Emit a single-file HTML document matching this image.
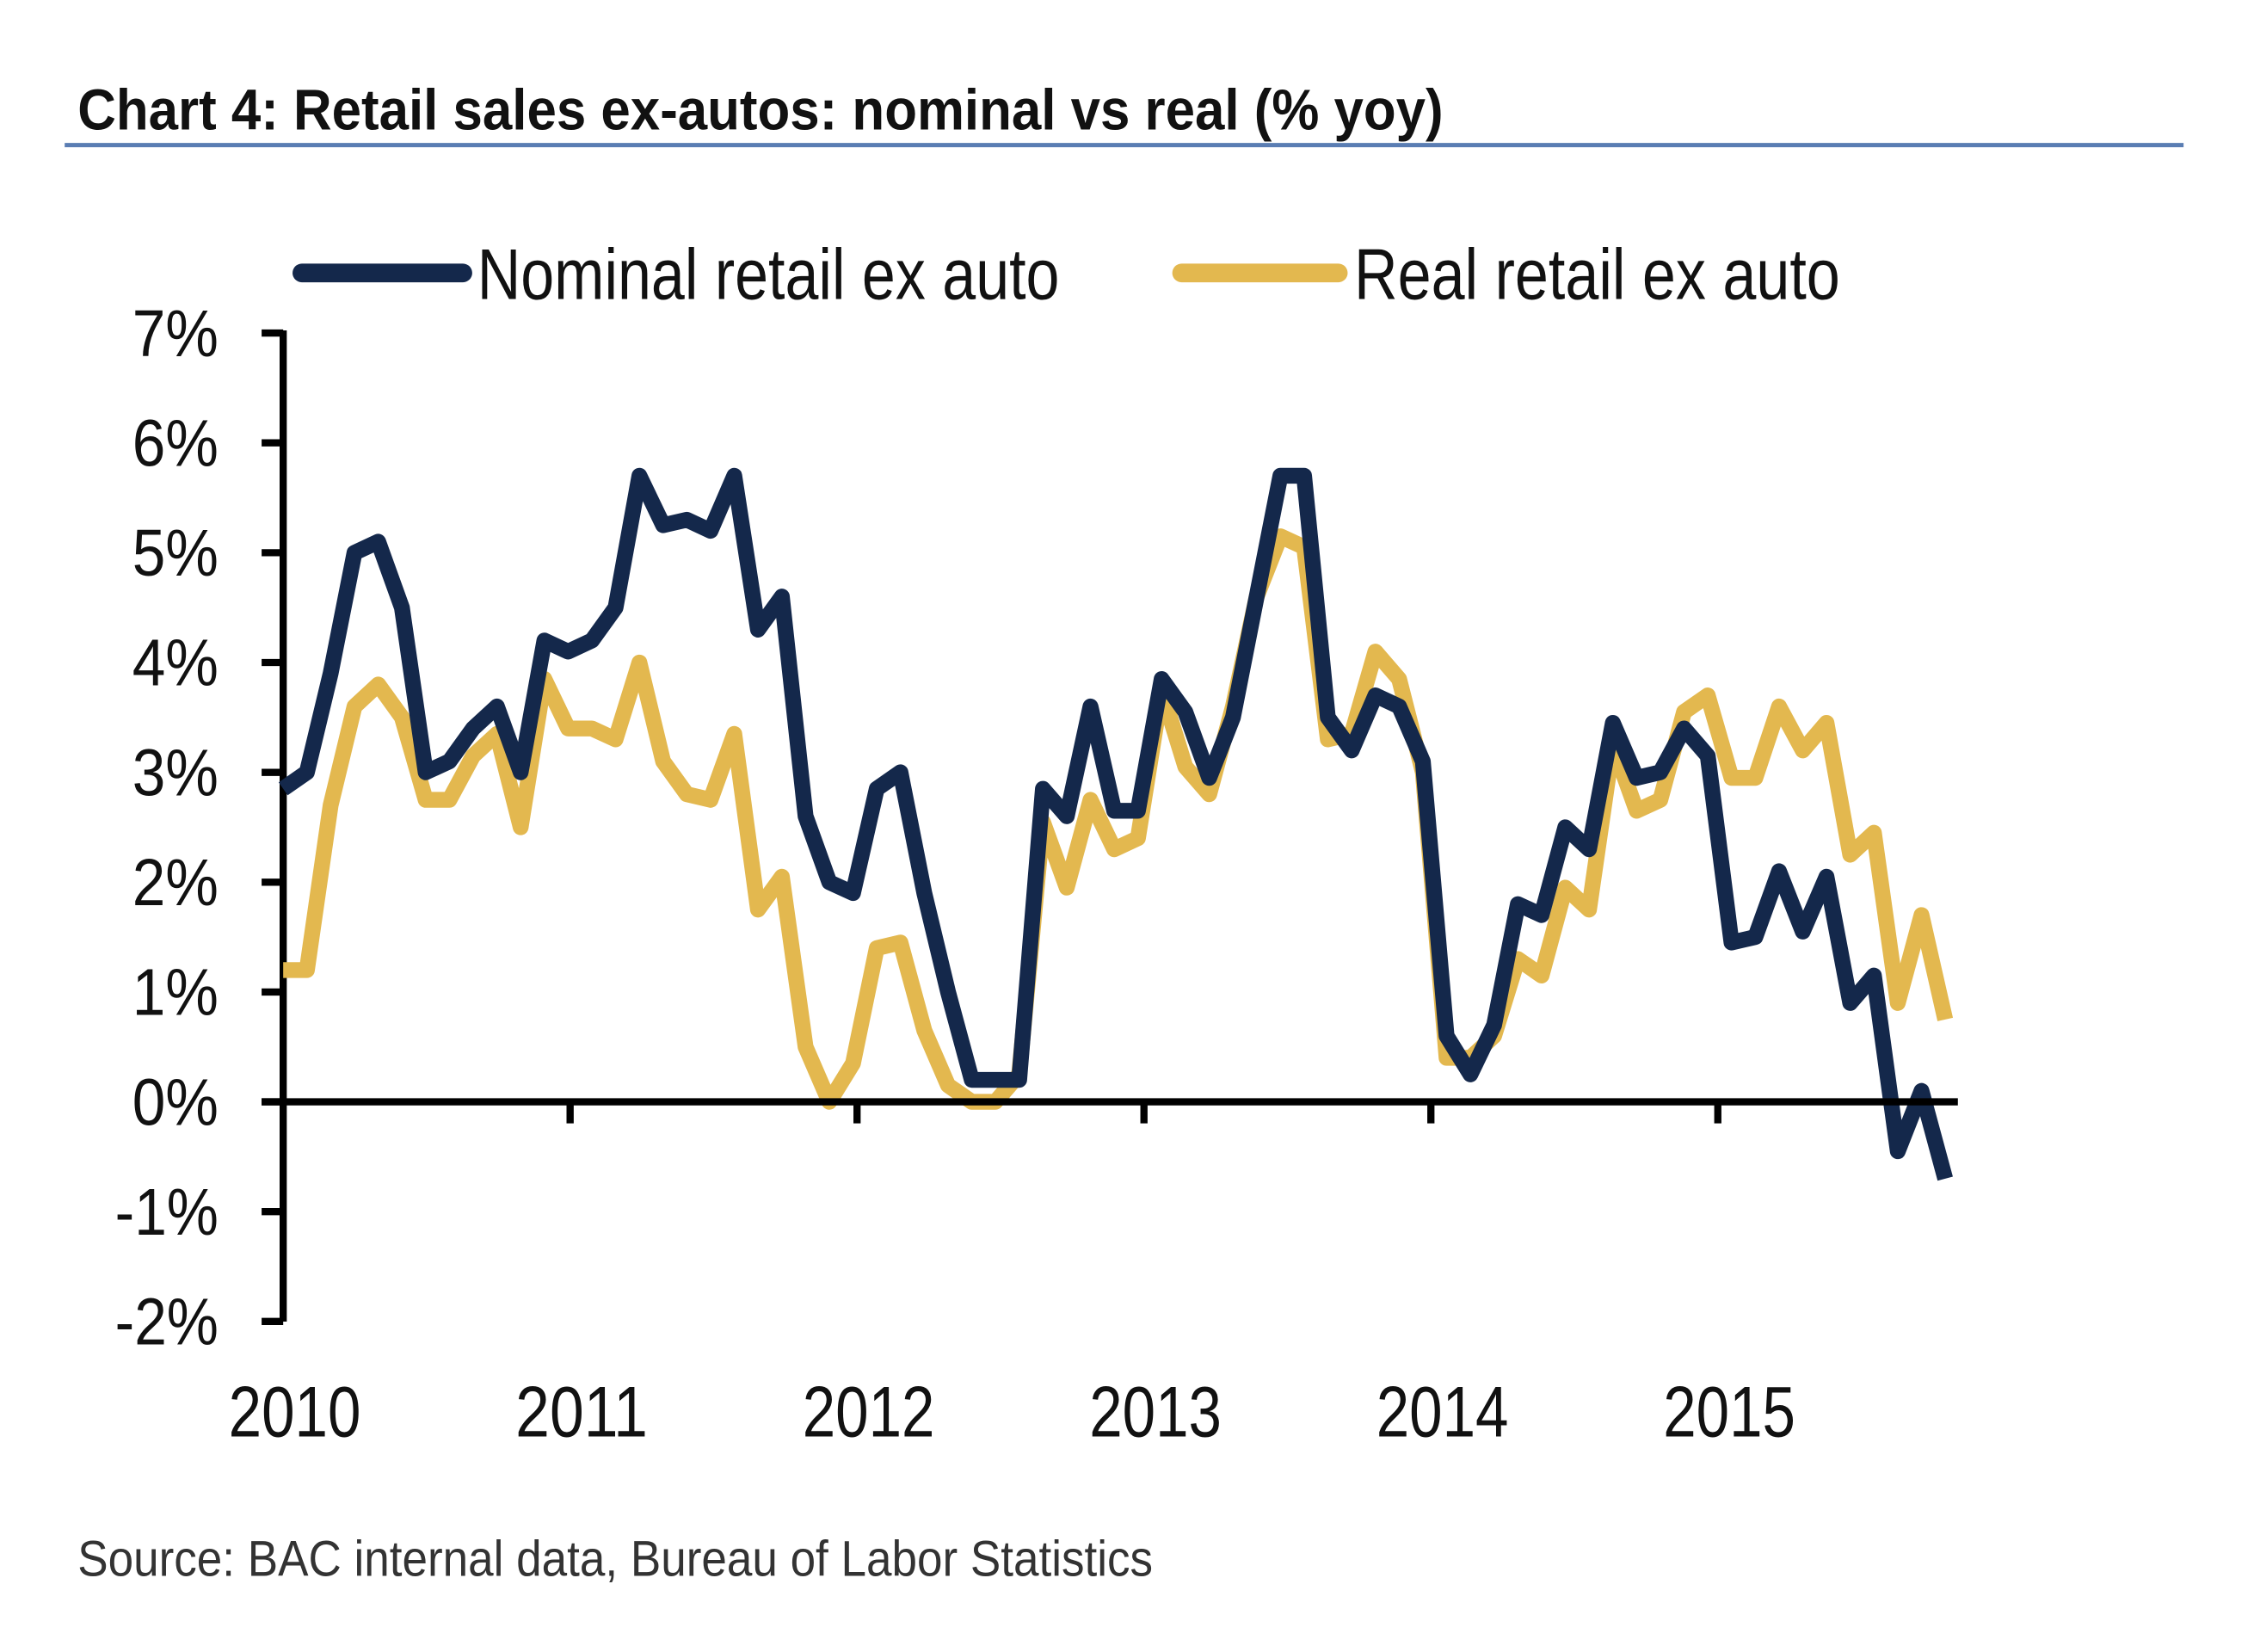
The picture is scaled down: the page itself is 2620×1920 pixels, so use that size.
<!DOCTYPE html>
<html><head><meta charset="utf-8"><style>
html,body{margin:0;padding:0;background:#fff;}
svg{display:block;}
</style></head><body>
<svg id="c" width="2620" height="1920" viewBox="0 0 1568 1150" preserveAspectRatio="none" xmlns="http://www.w3.org/2000/svg">
<rect width="1568" height="1150" fill="#fff"/>
<text x="54" y="90" font-family="Liberation Sans, sans-serif" font-weight="bold" font-size="40" fill="#111" textLength="950" lengthAdjust="spacingAndGlyphs">Chart 4: Retail sales ex-autos: nominal vs real (% yoy)</text>
<line x1="45" y1="101" x2="1519" y2="101" stroke="#5a7db3" stroke-width="3"/>
<line x1="210" y1="190" x2="322" y2="190" stroke="#14284b" stroke-width="13" stroke-linecap="round"/>
<text x="332" y="208" font-family="Liberation Sans, sans-serif" font-size="50" fill="#111" textLength="405" lengthAdjust="spacingAndGlyphs">Nominal retail ex auto</text>
<line x1="822" y1="190" x2="931" y2="190" stroke="#e3b84f" stroke-width="13" stroke-linecap="round"/>
<text x="942" y="208" font-family="Liberation Sans, sans-serif" font-size="50" fill="#111" textLength="338" lengthAdjust="spacingAndGlyphs">Real retail ex auto</text>
<g id="ax" font-family="Liberation Sans, sans-serif" font-size="46" fill="#111"></g>
<polyline id="real" fill="none" stroke="#e3b84f" stroke-width="11" stroke-linejoin="round"/>
<polyline id="nom" fill="none" stroke="#14284b" stroke-width="11" stroke-linejoin="round"/>
<line x1="182" y1="767" x2="1362" y2="767" stroke="#000" stroke-width="5"/>
<text x="54" y="1097" font-family="Liberation Sans, sans-serif" font-size="35" fill="#333" textLength="748" lengthAdjust="spacingAndGlyphs">Source: BAC internal data, Bureau of Labor Statistics</text>
</svg>
<script>
var y0=767,u=76.45,x0=197,m=16.6;
function Y(v){return y0-v*u;}
var ax=document.getElementById('ax'),s='';
s+='<line x1="197" y1="230" x2="197" y2="920" stroke="#000" stroke-width="5"/>';
for(var v=-2;v<=7;v++){var y=Y(v);s+='<line x1="182" y1="'+y+'" x2="197" y2="'+y+'" stroke="#000" stroke-width="5"/>';
s+='<text x="152" y="'+(y+16)+'" text-anchor="end" textLength="'+(v<0?72:60)+'" lengthAdjust="spacingAndGlyphs">'+v+'%</text>';}
for(var i=0;i<6;i++){var x=x0+i*199.6;if(i>0)s+='<line x1="'+x+'" y1="767" x2="'+x+'" y2="782" stroke="#000" stroke-width="5"/>';
s+='<text x="'+(x+8)+'" y="1000" text-anchor="middle" font-size="50" textLength="92" lengthAdjust="spacingAndGlyphs">'+(2010+i)+'</text>';}
ax.innerHTML=s;
var N=[2.85,3.0,3.9,5.0,5.1,4.5,3.0,3.1,3.4,3.6,3.0,4.2,4.1,4.2,4.5,5.7,5.25,5.3,5.2,5.7,4.3,4.6,2.6,2.0,1.9,2.85,3.0,1.9,1.0,0.2,0.2,0.2,2.85,2.6,3.6,2.65,2.65,3.85,3.55,2.95,3.5,4.6,5.7,5.7,3.5,3.2,3.7,3.6,3.1,0.6,0.25,0.7,1.8,1.7,2.5,2.3,3.45,2.95,3.0,3.4,3.15,1.45,1.5,2.1,1.55,2.05,0.9,1.15,-0.45,0.1,-0.7];
var R=[1.2,1.2,2.7,3.6,3.8,3.5,2.75,2.75,3.15,3.35,2.5,3.85,3.4,3.4,3.3,4.0,3.1,2.8,2.75,3.35,1.75,2.05,0.5,0.0,0.35,1.4,1.45,0.65,0.15,0.0,0.0,0.25,2.55,1.95,2.75,2.3,2.4,3.75,3.05,2.8,3.6,4.6,5.15,5.05,3.3,3.35,4.1,3.85,3.0,0.4,0.4,0.6,1.3,1.15,1.95,1.75,3.25,2.65,2.75,3.55,3.7,2.95,2.95,3.6,3.2,3.45,2.25,2.45,0.9,1.7,0.75];
function P(a){return a.map(function(v,i){return (x0+i*m*0.995).toFixed(1)+','+Y(v).toFixed(1);}).join(' ');}
document.getElementById('nom').setAttribute('points',P(N));
document.getElementById('real').setAttribute('points',P(R));
</script>
</body></html>
